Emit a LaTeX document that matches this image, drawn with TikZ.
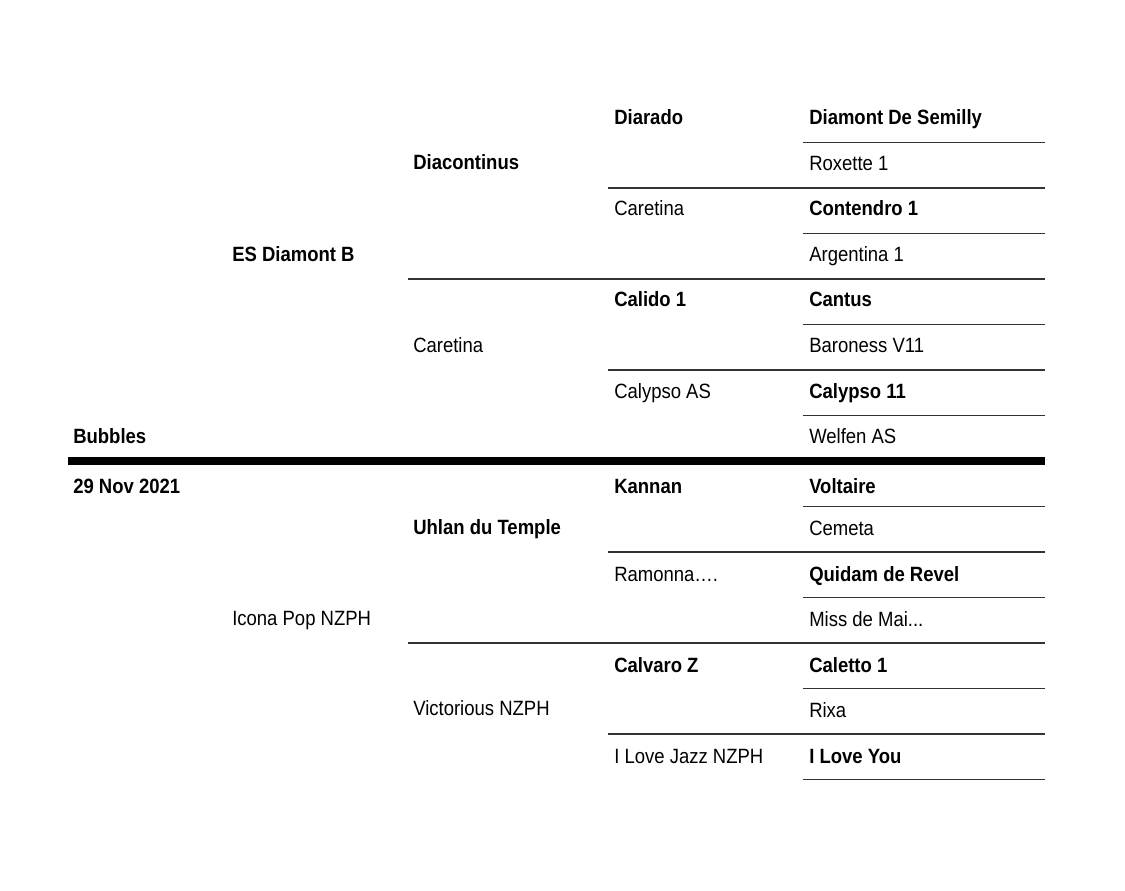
\documentclass[tikz,border=0pt]{standalone}
\usepackage{fontspec}
\setmainfont{Liberation Sans}[FakeStretch=0.895]
\usepackage{tikz}
\usetikzlibrary{positioning, calc}
\tikzset{
    stallion/.style={anchor=base west, inner sep=0pt, font=\fontsize{15.5}{18}\selectfont\bfseries},
    mare/.style={anchor=base west, inner sep=0pt, font=\fontsize{15.5}{18}\selectfont},
    rule/.style={draw=black!80, line width=1pt},
    divider/.style={draw=black, line width=6pt}
}

\begin{document}
\begin{tikzpicture}[x=0.75pt, y=-0.75pt]
    \useasboundingbox[fill=white] (0,0) rectangle (1125,891);

    % ---------------- SIRE SIDE ---------------- %
    % Rules
    \draw[rule] (803,142.5) -- (1045,142.5);
    \draw[rule] (608,188) -- (1045,188);
    \draw[rule] (803,233.5) -- (1045,233.5);
    \draw[rule] (408,279) -- (1045,279);
    \draw[rule] (803,324.5) -- (1045,324.5);
    \draw[rule] (608,370) -- (1045,370);
    \draw[rule] (803,415.5) -- (1045,415.5);

    % Names
    \node[stallion] (bubbles) at (73,443.5) {Bubbles};
    \node[stallion] (sire) at (232,261.5) {ES Diamont B};
    \node[stallion] (ss) at (413,170) {Diacontinus};
    \node[mare] (sd) at (413,352.5) {Caretina};
    \node[stallion] (sss) at (614,125) {Diarado};
    \node[mare] (ssd) at (614,216) {Caretina};
    \node[stallion] (sds) at (614,307) {Calido 1};
    \node[mare] (sdd) at (614,398) {Calypso AS};
    \node[stallion] (ssss) at (809,125) {Diamont De Semilly};
    \node[mare] (sssd) at (809,170.5) {Roxette 1};
    \node[stallion] (ssds) at (809,216) {Contendro 1};
    \node[mare] (ssdd) at (809,261.5) {Argentina 1};
    \node[stallion] (sdss) at (809,307) {Cantus};
    \node[mare] (sdsd) at (809,352.5) {Baroness V11};
    \node[stallion] (sdds) at (809,398) {Calypso 11};
    \node[mare] (sddd) at (809,443.5) {Welfen AS};

    % Divider
    \draw[divider] (68,461) -- (1045,461);

    % ---------------- DAM SIDE ---------------- %
    % Rules
    \draw[rule] (803,506.5) -- (1045,506.5);
    \draw[rule] (608,552) -- (1045,552);
    \draw[rule] (803,597.5) -- (1045,597.5);
    \draw[rule] (408,643) -- (1045,643);
    \draw[rule] (803,688.5) -- (1045,688.5);
    \draw[rule] (608,734) -- (1045,734);
    \draw[rule] (803,779.5) -- (1045,779.5);

    % Names
    \node[stallion] (foaled) at (73,493.5) {29 Nov 2021};
    \node[mare] (dam) at (232,625.5) {Icona Pop NZPH};
    \node[stallion] (ds) at (413,534.5) {Uhlan du Temple};
    \node[mare] (dd) at (413,715.5) {Victorious NZPH};
    \node[stallion] (dss) at (614,493.5) {Kannan};
    \node[mare] (dsd) at (614,581) {Ramonna….};
    \node[stallion] (dds) at (614,672) {Calvaro Z};
    \node[mare] (ddd) at (614,763) {I Love Jazz NZPH};
    \node[stallion] (dsss) at (809,493.5) {Voltaire};
    \node[mare] (dssd) at (809,535.5) {Cemeta};
    \node[stallion] (dsds) at (809,581) {Quidam de Revel};
    \node[mare] (dsdd) at (809,626.5) {Miss de Mai...};
    \node[stallion] (ddss) at (809,672) {Caletto 1};
    \node[mare] (ddsd) at (809,717.5) {Rixa};
    \node[stallion] (ddds) at (809,763) {I Love You};
\end{tikzpicture}
\end{document}
